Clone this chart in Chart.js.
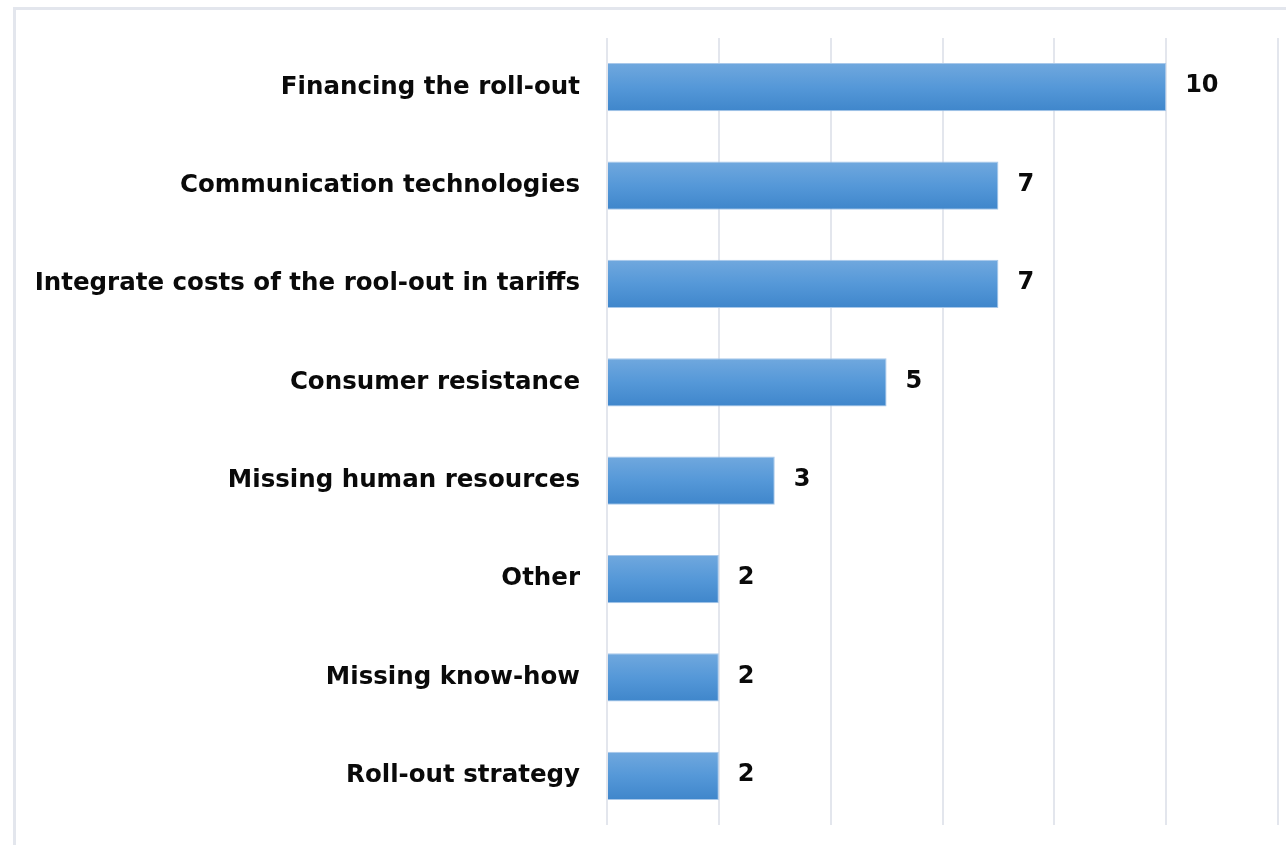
<!DOCTYPE html>
<html>
<head>
<meta charset="utf-8">
<script src="https://cdn.jsdelivr.net/npm/chart.js@4/dist/chart.umd.min.js"></script>
<style>
  html, body { margin: 0; padding: 0; background: #fff; }
  body { width: 1286px; height: 845px; position: relative; overflow: hidden; }
  #frame { position: absolute; left: 13px; top: 7px; width: 1300px; height: 900px;
           border-left: 3px solid #e3e6ed; border-top: 3px solid #e3e6ed; box-sizing: border-box; }
  #wrap { position: absolute; left: 0; top: 0; width: 1286px; height: 845px; }
</style>
</head>
<body>
<div id="frame"></div>
<div id="wrap"><canvas id="c" width="1286" height="845"></canvas></div>
<script>
const categories = [
  "Financing the roll-out",
  "Communication technologies",
  "Integrate costs of the rool-out in tariffs",
  "Consumer resistance",
  "Missing human resources",
  "Other",
  "Missing know-how",
  "Roll-out strategy"
];
const values = [10, 7, 7, 5, 3, 2, 2, 2];
const xTicks = [0, 2, 4, 6, 8, 10, 12];

const FONT = "'DejaVu Sans', sans-serif";
const BAR_PCT = 0.49;

function barGradient(context) {
  const chart = context.chart;
  const area = chart.chartArea;
  const y = chart.scales.y;
  if (!area || !y || context.dataIndex === undefined) return '#4d93d6';
  const center = y.getPixelForValue(context.dataIndex);
  const half = (area.bottom - area.top) / categories.length * BAR_PCT / 2;
  const g = chart.ctx.createLinearGradient(0, center - half, 0, center + half);
  g.addColorStop(0, '#70a8de');
  g.addColorStop(0.5, '#5598d8');
  g.addColorStop(1, '#3f86cb');
  return g;
}

const valueLabels = {
  id: 'valueLabels',
  afterDatasetsDraw(chart) {
    const ctx = chart.ctx;
    const meta = chart.getDatasetMeta(0);
    ctx.save();
    ctx.font = "bold 24px " + FONT;
    ctx.fillStyle = '#0a0a0a';
    ctx.textAlign = 'left';
    ctx.textBaseline = 'middle';
    meta.data.forEach((el, i) => {
      ctx.fillText(String(values[i]), el.x + 19, el.y - 1);
    });
    ctx.restore();
  }
};

new Chart(document.getElementById('c'), {
  type: 'bar',
  data: {
    labels: categories,
    datasets: [{
      data: values,
      backgroundColor: barGradient,
      borderColor: '#a8c8ea',
      borderWidth: 1,
      borderSkipped: 'start',
      categoryPercentage: 1,
      barPercentage: BAR_PCT
    }]
  },
  options: {
    indexAxis: 'y',
    responsive: false,
    animation: false,
    devicePixelRatio: 1,
    layout: { padding: { top: 38, bottom: 20, right: 8, left: 0 } },
    plugins: { legend: { display: false }, tooltip: { enabled: false } },
    scales: {
      x: {
        min: 0, max: 12,
        afterBuildTicks(axis) { axis.ticks = xTicks.map(v => ({ value: v })); },
        afterFit(axis) { axis.height = 0; axis.paddingLeft = 0; axis.paddingRight = 0; },
        ticks: { display: false },
        grid: { color: '#e3e6ed', lineWidth: 2, drawTicks: false },
        border: { display: false }
      },
      y: {
        afterFit(axis) { axis.width = 607; axis.paddingTop = 0; axis.paddingBottom = 0; },
        grid: { display: false, drawTicks: false },
        border: { display: false },
        ticks: {
          padding: 27,
          color: '#0a0a0a',
          font: { family: FONT, size: 24.5, weight: 'bold' }
        }
      }
    }
  },
  plugins: [valueLabels]
});
</script>
</body>
</html>
